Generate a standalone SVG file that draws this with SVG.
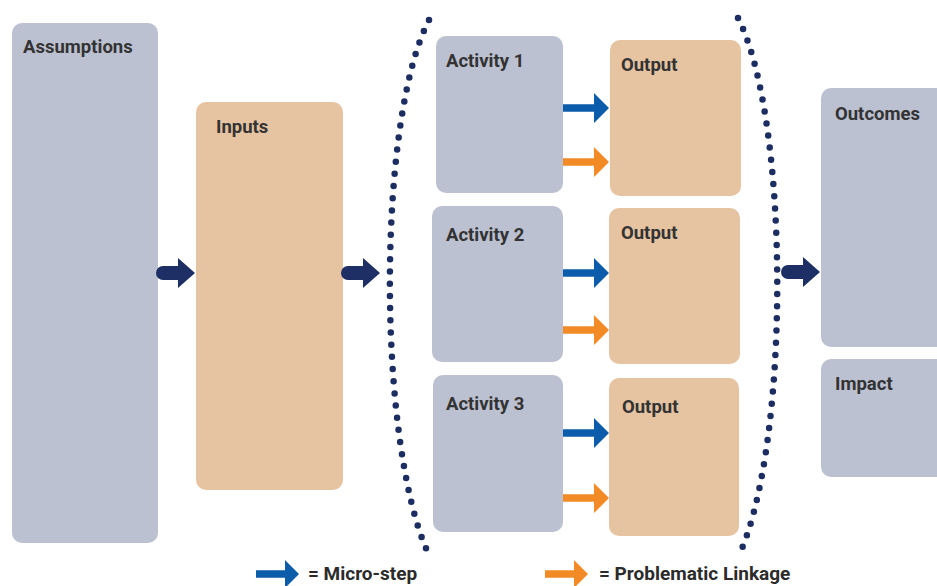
<svg xmlns="http://www.w3.org/2000/svg" xmlns:xlink="http://www.w3.org/1999/xlink" width="937" height="586" viewBox="0 0 937 586">
<style>
.g{fill:#BCC1D2}
.t{fill:#E6C3A1}
.lb{font-family:Roboto,"Liberation Sans",sans-serif;font-weight:bold;font-size:18.5px;fill:#333333}
.lg{font-family:Roboto,"Liberation Sans",sans-serif;font-weight:bold;font-size:19px;fill:#2B2B2B}
.dots{fill:none;stroke:#1C2D62;stroke-width:6.5;stroke-linecap:round;stroke-dasharray:0 12.2}
</style>
<defs>
<path id="navy" d="M-32 -7H-17V-15L0 0L-17 15V7H-32A7 7 0 0 1 -32 -7Z" fill="#1E2F66"/>
<path id="blue" d="M-46 -3.8H-15V-15L0 0L-15 15V3.8H-46Z" fill="#0B5DAB"/>
<path id="orange" d="M-46 -3.8H-15V-15L0 0L-15 15V3.8H-46Z" fill="#F28A26"/>
<path id="lblue" d="M-43 -3.8H-14V-14L0 0L-14 14V3.8H-43Z" fill="#0B5DAB"/>
<path id="lorange" d="M-43 -3.8H-14V-14L0 0L-14 14V3.8H-43Z" fill="#F28A26"/>
</defs>
<rect width="937" height="586" fill="#FFFFFF"/>

<g id="assumptions"><rect class="g" x="12" y="23" width="146" height="520" rx="10"/><text class="lb" x="23" y="53">Assumptions</text></g>
<g id="inputs"><rect class="t" x="196" y="102" width="147" height="388" rx="10"/><text class="lb" x="216" y="133">Inputs</text></g>
<g id="activity1"><rect class="g" x="436" y="36" width="127" height="157" rx="10"/><text class="lb" x="446" y="67">Activity 1</text></g>
<g id="output1"><rect class="t" x="610" y="40" width="131" height="156" rx="10"/><text class="lb" x="621" y="71">Output</text></g>
<g id="activity2"><rect class="g" x="432" y="206" width="131" height="156" rx="10"/><text class="lb" x="446" y="241">Activity 2</text></g>
<g id="output2"><rect class="t" x="609" y="208" width="131" height="156" rx="10"/><text class="lb" x="621" y="239">Output</text></g>
<g id="activity3"><rect class="g" x="433" y="375" width="130" height="157" rx="10"/><text class="lb" x="446" y="410">Activity 3</text></g>
<g id="output3"><rect class="t" x="609" y="378" width="130" height="158" rx="10"/><text class="lb" x="622" y="413">Output</text></g>
<g id="outcomes"><rect class="g" x="821" y="88" width="130" height="259" rx="10"/><text class="lb" x="835" y="120">Outcomes</text></g>
<g id="impact"><rect class="g" x="821" y="359" width="130" height="118" rx="10"/><text class="lb" x="835" y="390">Impact</text></g>

<g id="activities-bracket">
<path class="dots" d="M429 20C377 120 377 440 428 553"/>
<path class="dots" d="M738 18C790 120 790 440 740 553"/>
</g>

<g id="connectors">
<use xlink:href="#navy" x="195" y="273"/>
<use xlink:href="#navy" x="380" y="273"/>
<use xlink:href="#navy" x="820" y="272"/>
<use xlink:href="#blue" x="609" y="108"/>
<use xlink:href="#orange" x="609" y="162"/>
<use xlink:href="#blue" x="609" y="273"/>
<use xlink:href="#orange" x="609" y="330"/>
<use xlink:href="#blue" x="609" y="433"/>
<use xlink:href="#orange" x="609" y="498"/>
</g>

<g id="legend">
<use xlink:href="#lblue" x="299" y="574"/>
<text class="lg" x="308" y="580">= Micro-step</text>
<use xlink:href="#lorange" x="588" y="574"/>
<text class="lg" x="599" y="580">= Problematic Linkage</text>
</g>
</svg>
